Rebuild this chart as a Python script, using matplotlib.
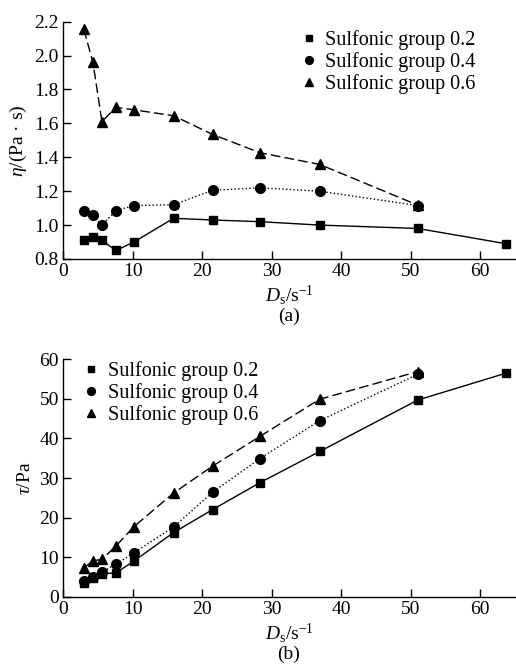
import matplotlib
matplotlib.use('Agg')
import matplotlib.pyplot as plt

plt.rcParams['font.family'] = ['Liberation Serif', 'DejaVu Serif']
plt.rcParams['mathtext.fontset'] = 'custom'
plt.rcParams['mathtext.rm'] = 'Liberation Serif'
plt.rcParams['mathtext.it'] = 'Liberation Serif:italic'

# shear rate D_s (s^-1)
shear = [3.0, 4.3, 5.6, 7.6, 10.2, 15.9, 21.5, 28.3, 36.9, 51.0, 63.7]

labels = ['Sulfonic group 0.2', 'Sulfonic group 0.4', 'Sulfonic group 0.6']

# (a) apparent viscosity, Pa·s
visc_02 = [0.91, 0.93, 0.91, 0.85, 0.90, 1.04, 1.03, 1.02, 1.00, 0.98, 0.89]
visc_04 = [1.085, 1.06, 1.00, 1.085, 1.115, 1.12, 1.205, 1.22, 1.20, 1.115]
visc_06 = [2.155, 1.96, 1.61, 1.695, 1.68, 1.645, 1.535, 1.427, 1.358, 1.118]

# (b) shear stress, Pa
stress_02 = [3.5, 4.6, 5.8, 6.0, 9.0, 16.2, 22.0, 28.8, 36.7, 49.7, 56.5]
stress_04 = [4.0, 5.1, 6.2, 8.2, 11.1, 17.6, 26.4, 34.9, 44.5, 56.2]
stress_06 = [7.2, 9.1, 9.4, 12.8, 17.7, 26.2, 33.0, 40.5, 49.9, 56.9]

fig = plt.figure(figsize=(5.16, 6.69), dpi=100)
ax1 = fig.add_axes([0.1221, 0.6129, 0.876, 0.3547])
ax2 = fig.add_axes([0.1221, 0.1081, 0.876, 0.3548])

styles = [('s', '-', 6.0), ('o', ':', 7.0), ('^', (0, (7, 3)), 7.5)]


def draw(ax, series, ylim, yticks, ylabel, legend_anchor, tag):
    for (mk, ls, ms), ys, lab in zip(styles, series, labels):
        ax.plot(shear[:len(ys)], ys, color='black', marker=mk, ms=ms,
                linestyle=ls, lw=1.0, label=lab)
    ax.set_xlim(0, 65)
    ax.set_xticks(range(0, 61, 10))
    ax.set_ylim(*ylim)
    ax.set_yticks(yticks)
    for s in ['top', 'right']:
        ax.spines[s].set_visible(False)
    for s in ['left', 'bottom']:
        ax.spines[s].set_linewidth(1.0)
    ax.tick_params(direction='in', length=6, width=1.0, labelsize=14, pad=3)
    ax.set_ylabel(ylabel, fontsize=14, labelpad=4)
    ax.set_xlabel(r'$D_\mathrm{s}$/s$^{-1}$' + '\n' + tag, fontsize=14,
                  labelpad=2, linespacing=1.1)
    leg = ax.legend(loc='upper left', bbox_to_anchor=legend_anchor,
                    bbox_transform=fig.transFigure, frameon=False, fontsize=14.5,
                    handlelength=0.8, handletextpad=0.4, labelspacing=0.1,
                    borderpad=0, markerscale=0.8)
    for line in leg.get_lines():
        line.set_linestyle('None')


draw(ax1, [visc_02, visc_04, visc_06], (0.8, 2.2),
     [0.8, 1.0, 1.2, 1.4, 1.6, 1.8, 2.0, 2.2], r'$\eta$/(Pa · s)',
     (0.564, 0.9695), '(a)')

draw(ax2, [stress_02, stress_04, stress_06], (0, 60),
     [0, 10, 20, 30, 40, 50, 60], r'$\tau$/Pa', (0.142, 0.4755), '(b)')

fig.savefig('out.png', dpi=100)
